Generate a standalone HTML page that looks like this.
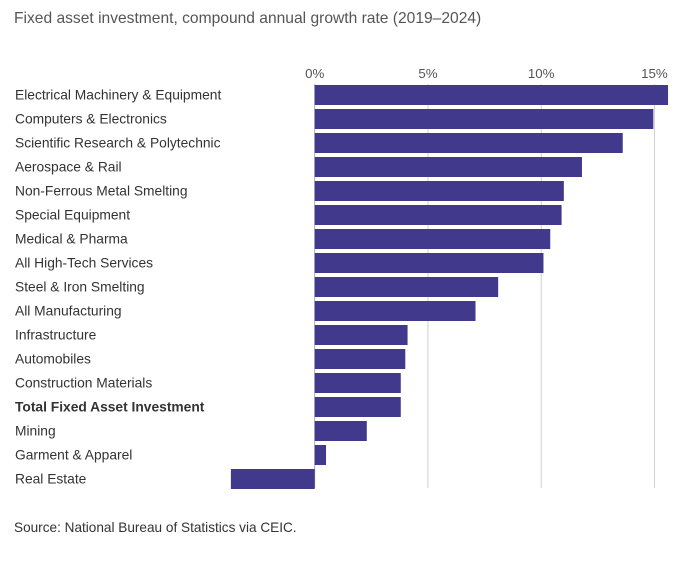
<!DOCTYPE html>
<html><head><meta charset="utf-8"><style>
body{margin:0;background:#fff;font-family:"Liberation Sans",sans-serif;}
svg text{font-family:"Liberation Sans",sans-serif;}
</style></head><body>
<svg width="693" height="561">
<text x="14" y="23" font-size="15.6" fill="#555">Fixed asset investment, compound annual growth rate (2019–2024)</text>
<g id="grid"></g><g id="bars"></g><g id="labels"></g>
<text x="14" y="532" font-size="13.6" fill="#333">Source: National Bureau of Statistics via CEIC.</text>
</svg>
<script>
const categories=["Electrical Machinery & Equipment","Computers & Electronics","Scientific Research & Polytechnic","Aerospace & Rail","Non-Ferrous Metal Smelting","Special Equipment","Medical & Pharma","All High-Tech Services","Steel & Iron Smelting","All Manufacturing","Infrastructure","Automobiles","Construction Materials","Total Fixed Asset Investment","Mining","Garment & Apparel","Real Estate"];
const values=[15.6,14.95,13.6,11.8,11.0,10.9,10.4,10.1,8.1,7.1,4.1,4.0,3.8,3.8,2.3,0.5,-3.7];
const ticks=[0,5,10,15];
const tickLabels=["0%","5%","10%","15%"];
const NS="http://www.w3.org/2000/svg";
const x=v=>314.7+v*22.65;
const y=i=>85+i*24;
function mk(t,a,p){const e=document.createElementNS(NS,t);for(const k in a)e.setAttribute(k,a[k]);p.appendChild(e);return e;}
const g=document.getElementById('grid'),b=document.getElementById('bars'),l=document.getElementById('labels');
ticks.forEach((t,i)=>{
 const ln=mk('line',{x1:x(t),x2:x(t),y1:84,y2:488,stroke:t===0?'#aaa':'#d0d0d0','stroke-width':1},g);
 
 
 const tx=mk('text',{x:x(t),y:78,'font-size':13.3,fill:'#555','text-anchor':'middle'},g);
 tx.textContent=tickLabels[i];
 
 
});
categories.forEach((c,i)=>{
 const v=values[i];
 const r=mk('rect',{x:Math.min(x(0),x(v)),y:y(i),width:Math.abs(x(v)-x(0)),height:20,fill:'#41398b'},b);
 
 
 const t=mk('text',{x:15,y:y(i)+14.5,'font-size':13.8,fill:'#333','font-weight':c==="Total Fixed Asset Investment"?'bold':'normal'},l);
 t.textContent=c;
 
 
});
</script>
</body></html>
